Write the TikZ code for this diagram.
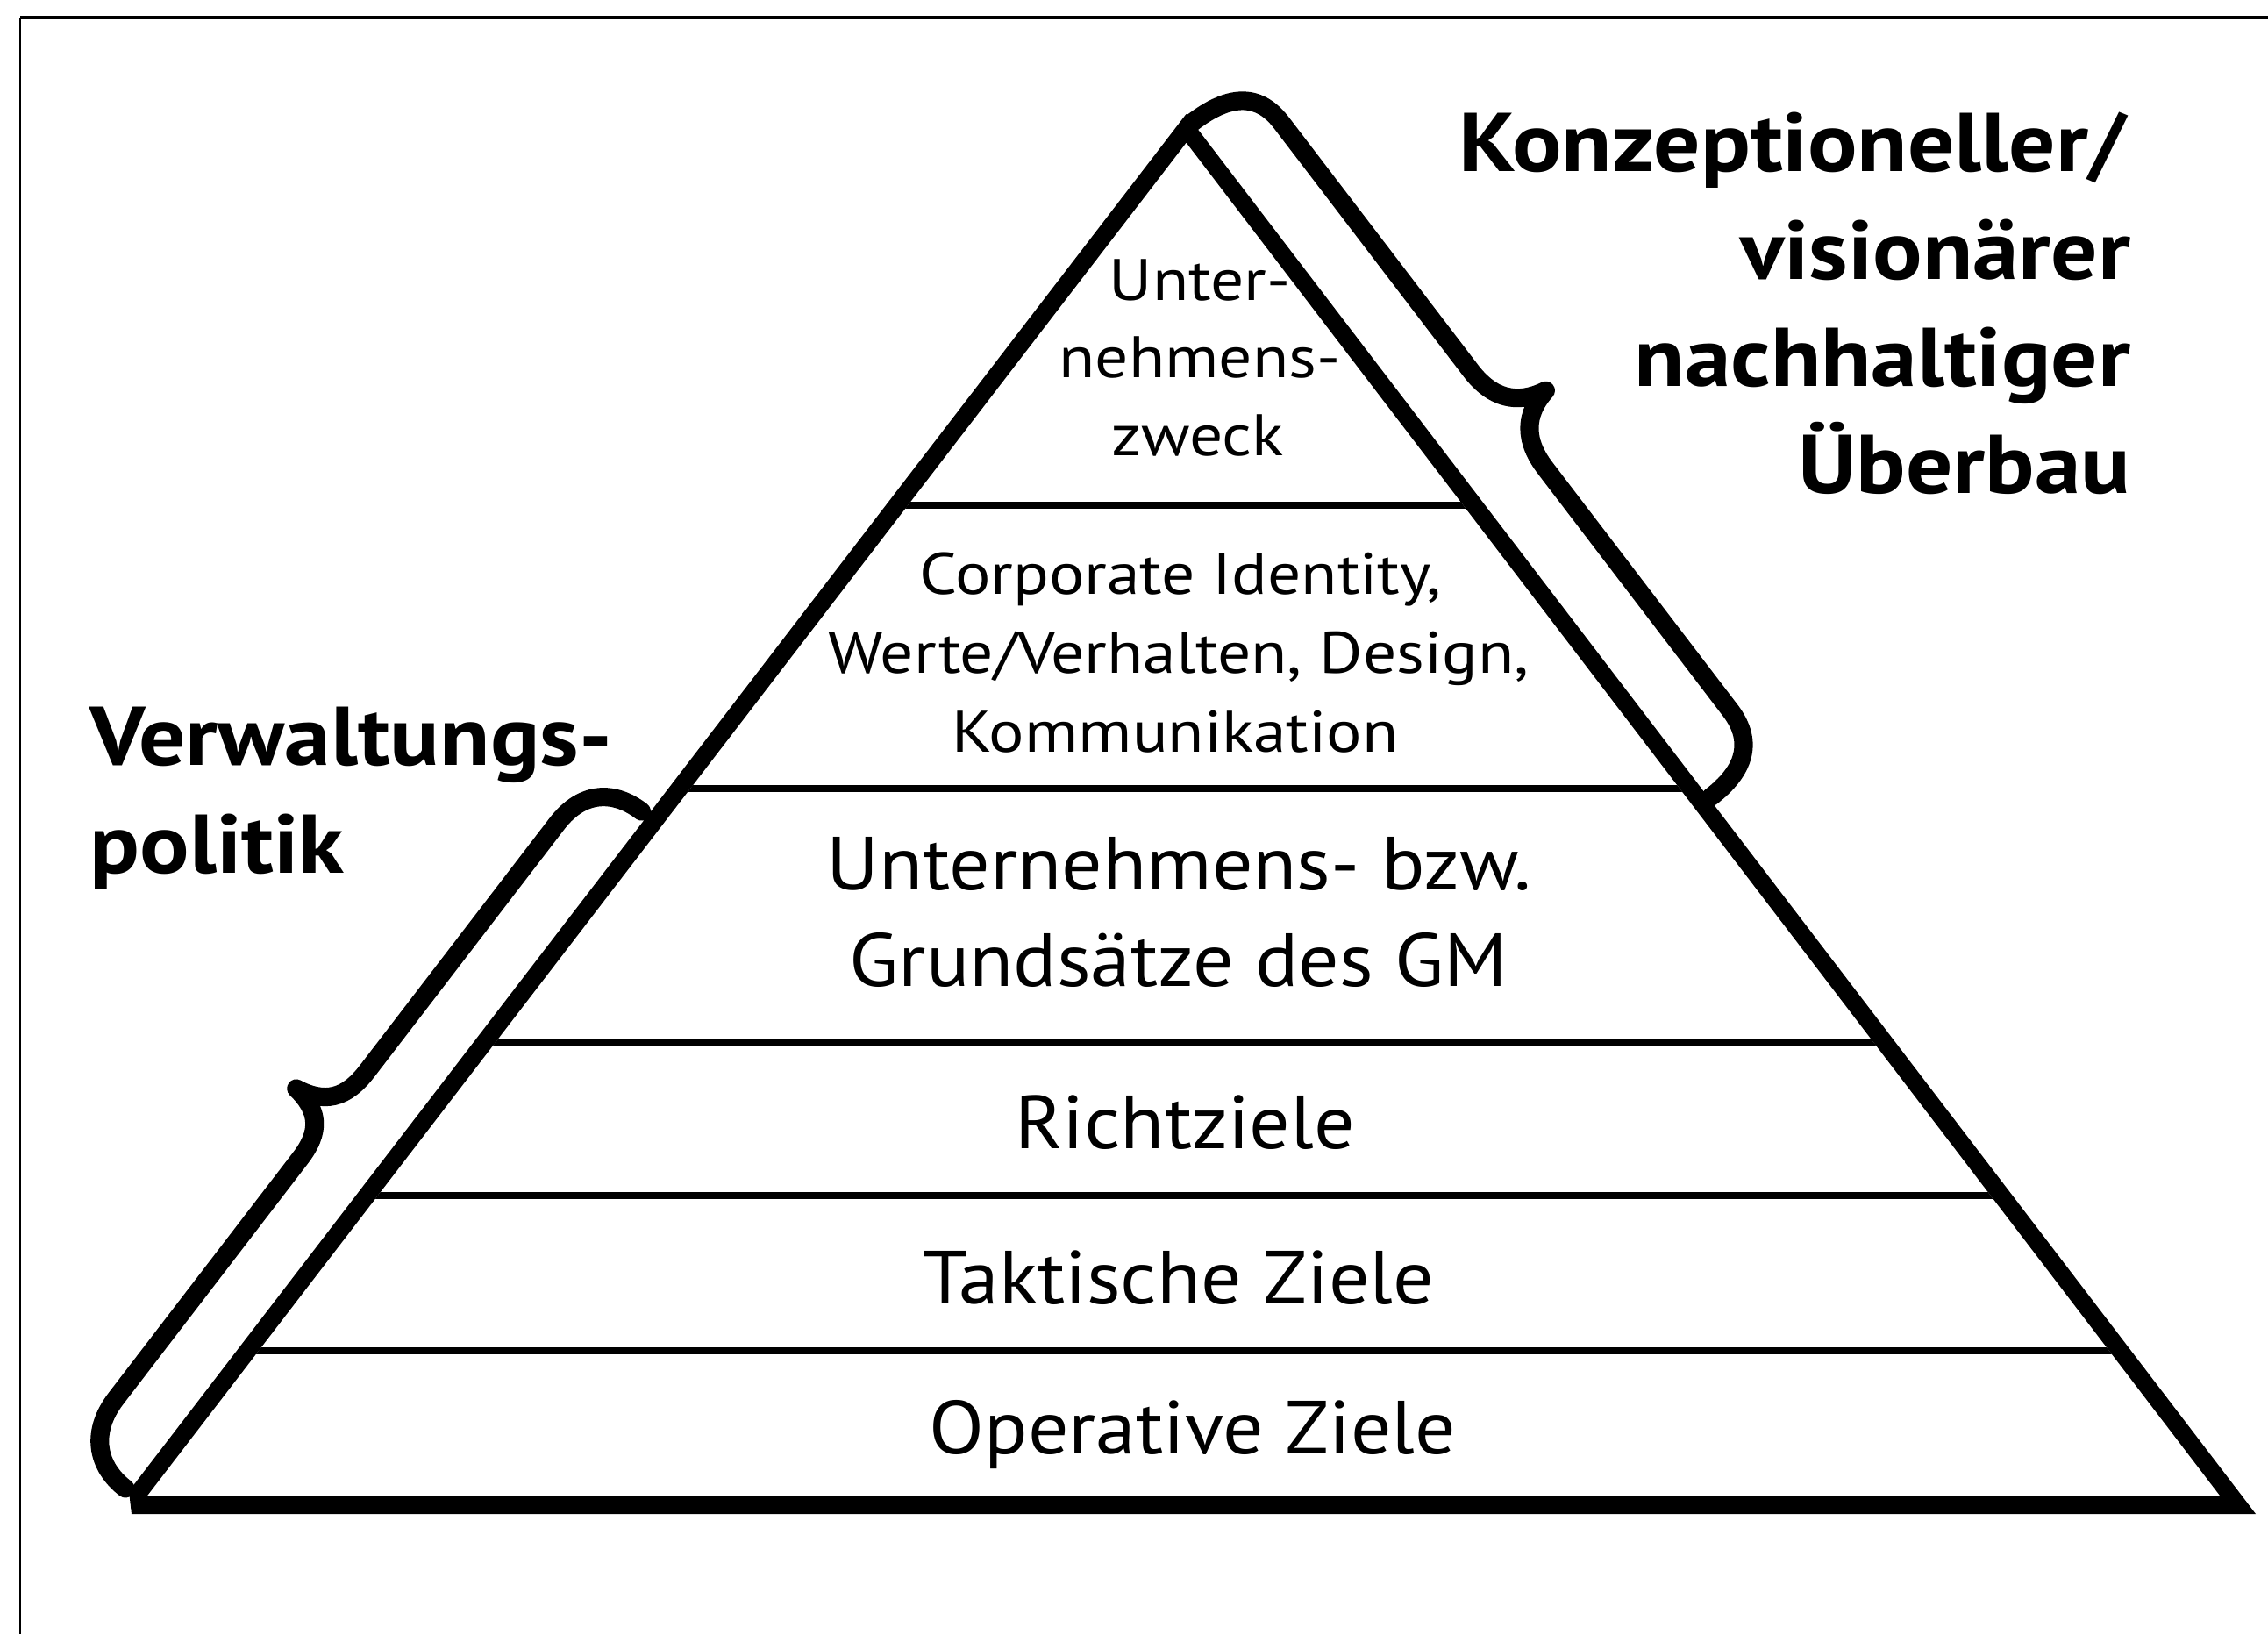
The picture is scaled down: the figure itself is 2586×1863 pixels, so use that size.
\documentclass[tikz,border=0pt]{standalone}
\usepackage{fontspec}
\setmainfont{PT Sans}
\newfontfamily\smallfam{PT Sans}[FakeStretch=1.13]
\newfontfamily\bigfam{PT Sans}[FakeStretch=1.07]
\newfontfamily\headfam{PT Sans}[FakeStretch=1.11]
\usetikzlibrary{calc}
\begin{document}
\begin{tikzpicture}[x=0.01cm,y=-0.01cm,
  tbig/.style={font=\bigfam\fontsize{24.4pt}{30pt}\selectfont, inner sep=0pt, anchor=base},
  tsmall/.style={font=\smallfam\fontsize{19pt}{24pt}\selectfont, inner sep=0pt, anchor=base},
  thead/.style={font=\headfam\bfseries\fontsize{27pt}{33pt}\selectfont, inner sep=0pt},
  divider/.style={line width=2.1pt},
  bracestroke/.style={line width=#1, line cap=round, line join=round}]
% bounding box
\useasboundingbox (0,0) rectangle (2586,1863);
% frame (top and left only)
\coordinate (FTL) at (23,20);
\coordinate (FTR) at (2586,20);
\coordinate (FBL) at (23,1863);
\draw[line width=1.4pt] (FTL) -- (FTR);
\draw[line width=0.6pt] (FTL) -- (FBL);
% pyramid outline
\coordinate (Ao) at (1352.5,130);
\coordinate (Lo1) at (147,1700);
\coordinate (Lo2) at (150,1726);
\coordinate (Ro) at (2572,1726);
\coordinate (Ai) at (1352.6,162.6);
\coordinate (Li) at (167.3,1706);
\coordinate (Ri) at (2531.8,1706);
\fill[even odd rule] (Ao) -- (Lo1) -- (Lo2) -- (Ro) -- cycle (Ai) -- (Li) -- (Ri) -- cycle;
% dividers
\begin{scope}
  \clip (Ai) -- (Li) -- (Ri) -- cycle;
  \foreach \yy in {576,899,1188,1363,1540}
    \draw[divider] (0,\yy) -- (2586,\yy);
\end{scope}
% right brace (frame along the right side, origin at the apex)
\coordinate (RB0) at (1355,133);
\begin{scope}[shift={(RB0)}, x={(0.006071cm,-0.007947cm)}, y={(0.007947cm,0.006071cm)}]
  \draw[bracestroke=6pt] (8,0) .. controls (8,50) and (25,80) .. (70,80) -- (425,80)
     .. controls (465,80) and (488,98) .. (495,134)
     .. controls (502,98) and (525,80) .. (565,80) -- (912,80)
     .. controls (958,80) and (977,50) .. (977,2);
\end{scope}
% left brace (frame along the left side, origin at the bottom-left corner)
\coordinate (LB0) at (147,1700);
\begin{scope}[shift={(LB0)}, x={(0.006089cm,0.007933cm)}, y={(-0.007933cm,0.006089cm)}]
  \draw[bracestroke=6pt] (0,5) .. controls (0,45) and (25,76) .. (75,76) -- (420,76)
     .. controls (458,76) and (476,92) .. (480,128)
     .. controls (486,92) and (505,76) .. (545,76) -- (900,76)
     .. controls (950,76) and (970,45) .. (970,8);
\end{scope}
% texts in pyramid
\node[tsmall] (u1) at (1368,342) {Unter-};
\node[tsmall] (u2) at (1368,430) {nehmens-};
\node[tsmall] (u3) at (1366,519) {zweck};
\node[tsmall] (c1) at (1346,677) {Corporate Identity,};
\node[tsmall] (c2) at (1344,767) {Werte/Verhalten, Design,};
\node[tsmall] (c3) at (1340,857) {Kommunikation};
\node[tbig] (g1) at (1344,1014) {Unternehmens- bzw.};
\node[tbig] (g2) at (1344,1124) {Grundsätze des GM};
\node[tbig] (r1) at (1351,1309) {Richtziele};
\node[tbig] (t1) at (1344,1486) {Taktische Ziele};
\node[tbig] (o1) at (1360,1657) {Operative Ziele};
% headings
\node[thead, anchor=base east] (k1) at (2425,195) {Konzeptioneller/};
\node[thead, anchor=base east] (k2) at (2430,318) {visionärer};
\node[thead, anchor=base east] (k3) at (2430,440) {nachhaltiger};
\node[thead, anchor=base east] (k4) at (2430,562) {Überbau};
\node[thead, anchor=base west] (v1) at (102,872) {Verwaltungs-};
\node[thead, anchor=base west] (v2) at (102,995) {politik};
\end{tikzpicture}
\end{document}
